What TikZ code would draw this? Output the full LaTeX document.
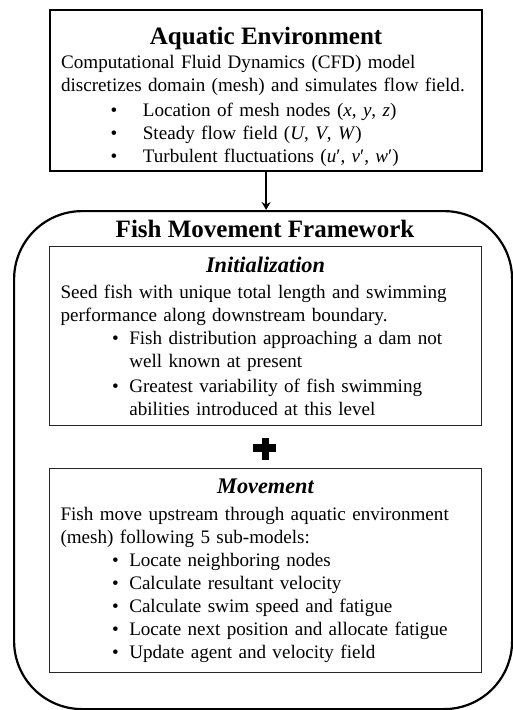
\documentclass[tikz,border=0pt]{standalone}
\usepackage{fontspec}
\setmainfont{Liberation Serif}
\usetikzlibrary{arrows.meta}
\newcommand{\bodysize}{\fontsize{19.1}{23}\selectfont}
\newcommand{\headsize}{\fontsize{25}{28}\selectfont}
\newcommand{\subheadsize}{\fontsize{22.3}{26}\selectfont}
\newcommand{\envitem}{\hspace*{49.5pt}\textbullet\hspace{25.6pt}}
\newcommand{\stageitem}{\hspace*{51.5pt}\textbullet\hspace{10.6pt}}
\newcommand{\stagecont}{\hspace*{68.8pt}}

\begin{document}
\begin{tikzpicture}[x=1pt,y=-1pt,
        envbox/.style={draw,line width=2.2pt,anchor=north west,inner xsep=11pt,inner ysep=0pt,
            text width=410pt,minimum height=161pt,align=left,font=\bodysize},
        stagebox/.style={draw=black!85,line width=1pt,anchor=north west,inner xsep=11pt,inner ysep=0pt,
            text width=410pt,align=left,font=\bodysize},
        framebox/.style={draw,line width=2.2pt,rounded corners=68pt,anchor=north west,
            minimum width=498pt,minimum height=498pt},
        flow/.style={line width=2pt,-{Stealth[length=8pt,width=9pt]}},
        plusbar/.style={fill=black}
    ]
    \useasboundingbox (0,0) rectangle (513,710);
    % Aquatic environment (CFD input)
    \node[envbox] (env) at (49,9) {%
        \makebox[410pt]{\rule{0pt}{30pt}\headsize\bfseries Aquatic Environment}\\[1pt]
        Computational Fluid Dynamics (CFD) model\\
        discretizes domain (mesh) and simulates flow field.\\[2pt]
        \envitem Location of mesh nodes (\textit{x}, \textit{y}, \textit{z})\\
        \envitem Steady flow field (\textit{U}, \textit{V}, \textit{W})\\
        \envitem Turbulent fluctuations (\textit{u}′, \textit{v}′, \textit{w}′)};
    % Fish movement framework
    \node[framebox] (fmf) at (13,210) {};
    \node[anchor=base,font=\headsize\bfseries] (fmftitle) at (265,237) {Fish Movement Framework};
    \node[stagebox,minimum height=179pt] (init) at (49,246) {%
        \makebox[410pt]{\subheadsize\bfseries\itshape Initialization}\\[3pt]
        Seed fish with unique total length and swimming\\
        performance along downstream boundary.\\
        \stageitem Fish distribution approaching a dam not\\
        \stagecont well known at present\\[2pt]
        \stageitem Greatest variability of fish swimming\\
        \stagecont abilities introduced at this level};
    \node[stagebox,minimum height=204pt] (move) at (49,468) {%
        \makebox[410pt]{\subheadsize\bfseries\itshape Movement}\\[4pt]
        Fish move upstream through aquatic environment\\
        (mesh) following 5 sub-models:\\
        \stageitem Locate neighboring nodes\\
        \stageitem Calculate resultant velocity\\
        \stageitem Calculate swim speed and fatigue\\
        \stageitem Locate next position and allocate fatigue\\
        \stageitem Update agent and velocity field};
    % plus sign between the two stages
    \fill[plusbar] (253,444) rectangle (276,452);
    \fill[plusbar] (261.5,438) rectangle (268.5,460);
    % connector
    \draw[flow] (env.south) -- (env.south |- fmf.north);
\end{tikzpicture}
\end{document}
